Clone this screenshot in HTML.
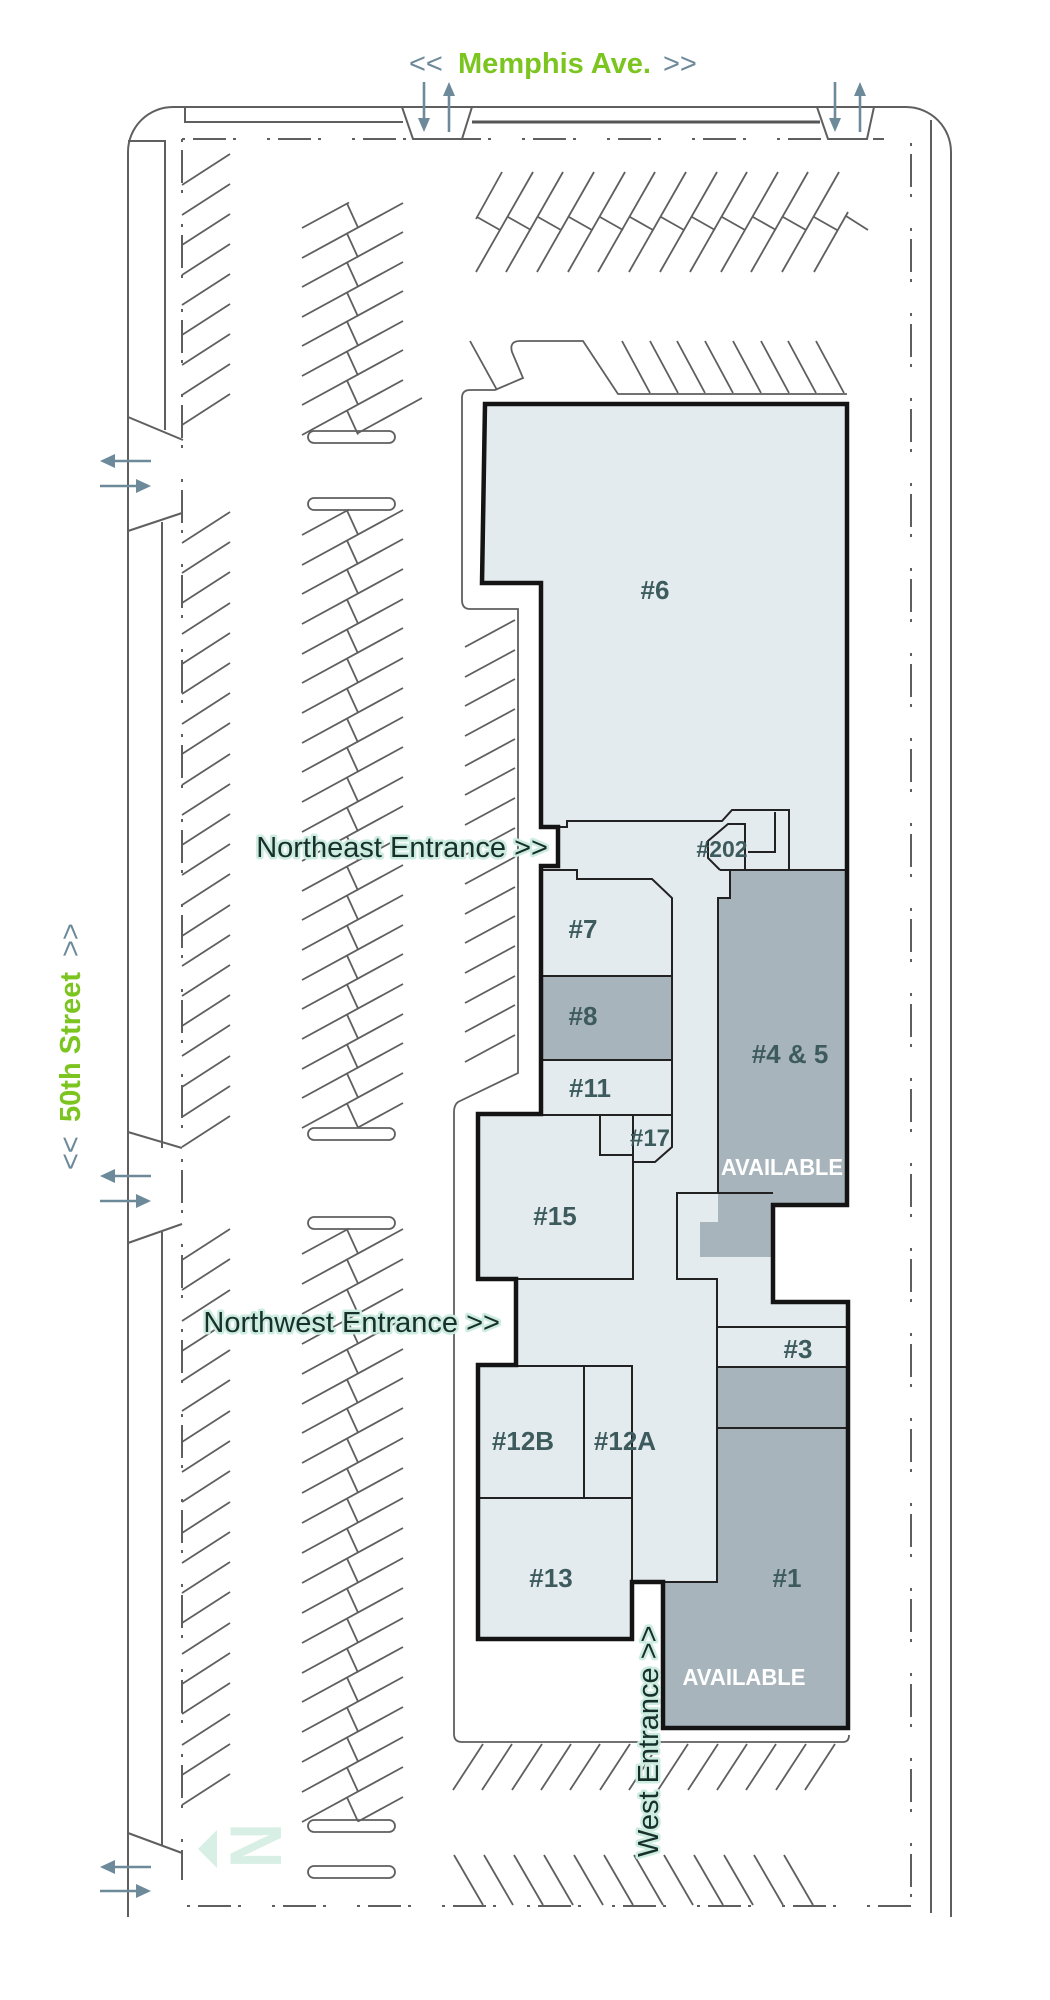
<!DOCTYPE html>
<html><head><meta charset="utf-8"><style>
html,body{margin:0;padding:0;background:#fff;}
svg{display:block;}
.lab{font-family:"Liberation Sans",sans-serif;font-weight:bold;font-size:26px;fill:#3d5b5d;text-anchor:middle;}
.av{font-family:"Liberation Sans",sans-serif;font-weight:bold;font-size:23px;fill:#fff;text-anchor:middle;}
.ent{font-family:"Liberation Sans",sans-serif;font-size:29px;fill:#17302b;stroke:#cdece0;stroke-width:5px;paint-order:stroke;stroke-linejoin:round;}
.sl{font-family:"Liberation Sans",sans-serif;font-size:29px;fill:#6d8a9a;}
.gr{font-family:"Liberation Sans",sans-serif;font-size:29px;font-weight:bold;fill:#7cc520;}
</style></head><body>
<svg width="1050" height="2000" viewBox="0 0 1050 2000" xmlns="http://www.w3.org/2000/svg">
<defs>
<line id="ls" x1="182" y1="0" x2="230" y2="-31"/>
<g id="mu"><line x1="302" y1="0" x2="403" y2="-55"/><line x1="347" y1="-24.5" x2="358" y2="-0.5"/></g>
<g id="mh"><line x1="302" y1="0" x2="349" y2="-25.5"/><line x1="347" y1="-24.5" x2="358" y2="-0.5"/></g>
<line id="c3" x1="465" y1="0" x2="515" y2="-27"/>
<g id="tu"><line x1="0" y1="172" x2="-57" y2="272"/><line x1="-25" y1="217" x2="-2" y2="230"/></g>
<line id="rb" x1="0" y1="341" x2="28" y2="393"/>
<line id="b1" x1="0" y1="1790" x2="30" y2="1744"/>
<line id="b2" x1="0" y1="1855" x2="29" y2="1905"/>
</defs>
<rect x="0" y="0" width="1050" height="2000" fill="#fff"/>

<!-- site outline -->
<g stroke="#5f5f5f" stroke-width="2" fill="none">
<path d="M128,1917 V152 A45,45 0 0 1 173,107 H906 A45,45 0 0 1 951,152 V1917"/>
<path d="M931,120 V1913"/>
<path d="M128,141 H165 V430"/>
<path d="M162,522 V1148"/>
<path d="M162,1232 V1845"/>
<path d="M128,417 L183,440"/>
<path d="M128,531 L182,513"/>
<path d="M128,1132 L182,1148"/>
<path d="M128,1243 L182,1224"/>
<path d="M128,1833 L182,1853"/>
<path d="M185,107 V122 H403"/>
<path d="M402,107 L413,139 H462 L472,107"/>
<path d="M817,107 L828,139 H867 L874,107"/>
</g>
<path d="M472,122 H820" stroke="#555" stroke-width="3" fill="none"/>

<!-- dash-dot lines -->
<g stroke="#5f5f5f" stroke-width="2" fill="none" stroke-dasharray="3 8 33 7 3 31">
<path d="M182,139 H884"/>
<path d="M182,139 V1880"/>
<path d="M911,143 V1902"/>
<path d="M187,1906 H911"/>
</g>

<!-- parking stalls -->
<g stroke="#5f5f5f" stroke-width="1.8" fill="none">
<!-- left column -->
<use href="#ls" y="185"/><use href="#ls" y="215"/><use href="#ls" y="245"/><use href="#ls" y="275"/><use href="#ls" y="305"/><use href="#ls" y="335"/><use href="#ls" y="365"/><use href="#ls" y="395"/><use href="#ls" y="425"/>
<use href="#ls" y="543"/><use href="#ls" y="573"/><use href="#ls" y="603"/><use href="#ls" y="634"/><use href="#ls" y="664"/><use href="#ls" y="694"/><use href="#ls" y="724"/><use href="#ls" y="754"/><use href="#ls" y="785"/><use href="#ls" y="815"/><use href="#ls" y="845"/><use href="#ls" y="875"/><use href="#ls" y="905"/><use href="#ls" y="936"/><use href="#ls" y="966"/><use href="#ls" y="996"/><use href="#ls" y="1026"/><use href="#ls" y="1056"/><use href="#ls" y="1087"/><use href="#ls" y="1117"/><use href="#ls" y="1147"/>
<use href="#ls" y="1260"/><use href="#ls" y="1290"/><use href="#ls" y="1321"/><use href="#ls" y="1351"/><use href="#ls" y="1381"/><use href="#ls" y="1411"/><use href="#ls" y="1442"/><use href="#ls" y="1472"/><use href="#ls" y="1502"/><use href="#ls" y="1533"/><use href="#ls" y="1563"/><use href="#ls" y="1593"/><use href="#ls" y="1623"/><use href="#ls" y="1654"/><use href="#ls" y="1684"/><use href="#ls" y="1714"/><use href="#ls" y="1745"/><use href="#ls" y="1775"/><use href="#ls" y="1805"/>
<!-- middle column block 1 -->
<use href="#mh" y="228"/>
<use href="#mu" y="258"/><use href="#mu" y="287"/><use href="#mu" y="317"/><use href="#mu" y="346"/><use href="#mu" y="376"/><use href="#mu" y="405"/><use href="#mu" y="435"/>
<line x1="358" y1="433" x2="422" y2="398"/>
<!-- middle column block 2 -->
<use href="#mh" y="535"/>
<use href="#mu" y="565"/><use href="#mu" y="594"/><use href="#mu" y="624"/><use href="#mu" y="654"/><use href="#mu" y="683"/><use href="#mu" y="713"/><use href="#mu" y="743"/><use href="#mu" y="772"/><use href="#mu" y="802"/><use href="#mu" y="832"/><use href="#mu" y="861"/><use href="#mu" y="891"/><use href="#mu" y="920"/><use href="#mu" y="950"/><use href="#mu" y="980"/><use href="#mu" y="1009"/><use href="#mu" y="1039"/><use href="#mu" y="1069"/><use href="#mu" y="1098"/><use href="#mu" y="1128"/>
<line x1="358" y1="1127.5" x2="403" y2="1103"/>
<!-- middle column block 3 -->
<use href="#mh" y="1254"/>
<use href="#mu" y="1284"/><use href="#mu" y="1314"/><use href="#mu" y="1344"/><use href="#mu" y="1374"/><use href="#mu" y="1404"/><use href="#mu" y="1433"/><use href="#mu" y="1463"/><use href="#mu" y="1493"/><use href="#mu" y="1523"/><use href="#mu" y="1553"/><use href="#mu" y="1583"/><use href="#mu" y="1613"/><use href="#mu" y="1643"/><use href="#mu" y="1673"/><use href="#mu" y="1702"/><use href="#mu" y="1732"/><use href="#mu" y="1762"/><use href="#mu" y="1792"/><use href="#mu" y="1822"/>
<line x1="358" y1="1821.5" x2="403" y2="1797"/>
<!-- islands -->
<rect x="308" y="431" width="87" height="12" rx="6"/>
<rect x="308" y="498" width="87" height="12" rx="6"/>
<rect x="308" y="1128" width="87" height="12" rx="6"/>
<rect x="308" y="1217" width="87" height="12" rx="6"/>
<rect x="308" y="1820" width="87" height="12" rx="6"/>
<rect x="308" y="1866" width="87" height="12" rx="6"/>
<!-- column 3 -->
<use href="#c3" y="647"/><use href="#c3" y="677"/><use href="#c3" y="706"/><use href="#c3" y="736"/><use href="#c3" y="766"/><use href="#c3" y="795"/><use href="#c3" y="825"/><use href="#c3" y="855"/><use href="#c3" y="884"/><use href="#c3" y="914"/><use href="#c3" y="943"/><use href="#c3" y="973"/><use href="#c3" y="1003"/><use href="#c3" y="1032"/><use href="#c3" y="1062"/>
<!-- top stalls -->
<line x1="502" y1="172" x2="476" y2="219"/><line x1="477" y1="217" x2="500" y2="230"/>
<use href="#tu" x="533"/><use href="#tu" x="563"/><use href="#tu" x="594"/><use href="#tu" x="625"/><use href="#tu" x="655"/><use href="#tu" x="686"/><use href="#tu" x="717"/><use href="#tu" x="747"/><use href="#tu" x="778"/><use href="#tu" x="808"/><use href="#tu" x="839"/>
<line x1="814" y1="272" x2="848" y2="212"/><line x1="846" y1="216" x2="868" y2="230"/>
<!-- row above building -->
<use href="#rb" x="622"/><use href="#rb" x="650"/><use href="#rb" x="677"/><use href="#rb" x="705"/><use href="#rb" x="733"/><use href="#rb" x="761"/><use href="#rb" x="788"/><use href="#rb" x="816"/>
<path d="M470,341 L497,390"/>
<!-- bottom rows -->
<use href="#b1" x="453"/><use href="#b1" x="482"/><use href="#b1" x="512"/><use href="#b1" x="541"/><use href="#b1" x="570"/><use href="#b1" x="600"/><use href="#b1" x="629"/><use href="#b1" x="658"/><use href="#b1" x="688"/><use href="#b1" x="717"/><use href="#b1" x="746"/><use href="#b1" x="776"/><use href="#b1" x="805"/>
<use href="#b2" x="454"/><use href="#b2" x="484"/><use href="#b2" x="514"/><use href="#b2" x="544"/><use href="#b2" x="574"/><use href="#b2" x="604"/><use href="#b2" x="634"/><use href="#b2" x="664"/><use href="#b2" x="694"/><use href="#b2" x="724"/><use href="#b2" x="754"/><use href="#b2" x="784"/>
<!-- walkway outline -->
<path d="M847,394 H618 L583,341 H520 Q509,341 512,352 L523,378 L495,390 H470 Q462,390 462,398 V600 Q462,609 470,609 H518 V1073 L458,1102 Q454,1105 454,1112 V1734 Q454,1742 462,1742 H843 Q849,1742 849,1735"/>
</g>

<!-- arrows -->
<g stroke="#6d8a9a" stroke-width="2.6" fill="#6d8a9a">
<line x1="424" y1="82" x2="424" y2="120"/><polygon stroke="none" points="418,118 430,118 424,132"/>
<line x1="449" y1="132" x2="449" y2="94"/><polygon stroke="none" points="443,96 455,96 449,82"/>
<line x1="835" y1="82" x2="835" y2="120"/><polygon stroke="none" points="829,118 841,118 835,132"/>
<line x1="860" y1="132" x2="860" y2="94"/><polygon stroke="none" points="854,96 866,96 860,82"/>
<line x1="151" y1="461" x2="112" y2="461"/><polygon stroke="none" points="100,461 115,454 115,468"/>
<line x1="100" y1="486" x2="139" y2="486"/><polygon stroke="none" points="151,486 136,479 136,493"/>
<line x1="151" y1="1176" x2="112" y2="1176"/><polygon stroke="none" points="100,1176 115,1169 115,1183"/>
<line x1="100" y1="1201" x2="139" y2="1201"/><polygon stroke="none" points="151,1201 136,1194 136,1208"/>
<line x1="151" y1="1867" x2="112" y2="1867"/><polygon stroke="none" points="100,1867 115,1860 115,1874"/>
<line x1="100" y1="1891" x2="139" y2="1891"/><polygon stroke="none" points="151,1891 136,1884 136,1898"/>
</g>

<!-- building -->
<polygon fill="#e4ebee" stroke="none" points="485,404 847,404 847,1205 773,1205 773,1302 848,1302 848,1728 663,1728 663,1582 632,1582 632,1639 478,1639 478,1365 516,1365 516,1279 478,1279 478,1114 541,1114 541,866 558,866 558,827 541,827 541,583 482,583"/>
<g fill="#a8b4bc" stroke="none">
<rect x="541" y="976" width="131" height="84"/>
<polygon points="730,870 847,870 847,1205 773,1205 773,1257 700,1257 700,1222 718,1222 718,898 730,898"/>
<rect x="717" y="1367" width="131" height="61"/>
<polygon points="717,1428 848,1428 848,1728 663,1728 663,1582 717,1582"/>
</g>
<g stroke="#222" stroke-width="2" fill="none">
<path d="M558,827 H567 V821 H722 L732,810 H789 V870"/>
<path d="M775,812 V852 H748"/>
<path d="M745,870 V824 H728 L708,841 V858 L720,870"/>
<path d="M720,870 H847"/>
<path d="M730,870 V898 H718 V1193 H677 V1279 H717 V1582 H632"/>
<path d="M718,1193 H773"/>
<path d="M541,870 H577 V879 H652 L672,898 V1147 L655,1162 H633"/>
<path d="M541,976 H672 M541,1060 H672 M541,1115 H672"/>
<path d="M600,1115 V1155 H633 M633,1115 V1279 H516"/>
<path d="M516,1366 H632 V1582 M584,1366 V1498 M478,1498 H632"/>
<path d="M717,1327 H848 M717,1367 H848 M717,1428 H848"/>
</g>
<polygon fill="none" stroke="#141414" stroke-width="4.5" stroke-linejoin="miter" points="485,404 847,404 847,1205 773,1205 773,1302 848,1302 848,1728 663,1728 663,1582 632,1582 632,1639 478,1639 478,1365 516,1365 516,1279 478,1279 478,1114 541,1114 541,866 558,866 558,827 541,827 541,583 482,583"/>

<!-- unit labels -->
<text class="lab" x="655" y="599">#6</text>
<text class="lab" x="722" y="857" style="font-size:23px">#202</text>
<text class="lab" x="583" y="938">#7</text>
<text class="lab" x="583" y="1025">#8</text>
<text class="lab" x="590" y="1097">#11</text>
<text class="lab" x="650" y="1146" style="font-size:24px">#17</text>
<text class="lab" x="790" y="1063">#4 &amp; 5</text>
<text class="av" x="782" y="1175" textLength="122" lengthAdjust="spacingAndGlyphs">AVAILABLE</text>
<text class="lab" x="555" y="1225">#15</text>
<text class="lab" x="798" y="1358">#3</text>
<text class="lab" x="523" y="1450">#12B</text>
<text class="lab" x="625" y="1450">#12A</text>
<text class="lab" x="551" y="1587">#13</text>
<text class="lab" x="787" y="1587">#1</text>
<text class="av" x="744" y="1685" textLength="123" lengthAdjust="spacingAndGlyphs">AVAILABLE</text>

<!-- street labels -->
<text class="sl" x="409" y="73">&lt;&lt;</text>
<text class="gr" x="458" y="73" textLength="193" lengthAdjust="spacingAndGlyphs">Memphis Ave.</text>
<text class="sl" x="663" y="73">&gt;&gt;</text>
<g transform="translate(80,1046) rotate(-90)">
<text class="sl" x="-124" y="0">&lt;&lt;</text>
<text class="gr" x="-76" y="0" textLength="150" lengthAdjust="spacingAndGlyphs">50th Street</text>
<text class="sl" x="89" y="0">&gt;&gt;</text>
</g>

<!-- entrances -->
<text class="ent" x="548" y="857" text-anchor="end">Northeast Entrance &gt;&gt;</text>
<text class="ent" x="500" y="1332" text-anchor="end">Northwest Entrance &gt;&gt;</text>
<text class="ent" transform="translate(658,1857) rotate(-90)" x="0" y="0">West Entrance &gt;&gt;</text>

<!-- north arrow -->
<polygon fill="#d8efe6" points="198,1849 217,1830 217,1868"/>
<text transform="translate(281,1868) rotate(-90) scale(1,1.18)" x="0" y="0" style="font-family:'Liberation Sans',sans-serif;font-weight:bold;font-size:62px;fill:#d8efe6;">N</text>
</svg>
</body></html>
